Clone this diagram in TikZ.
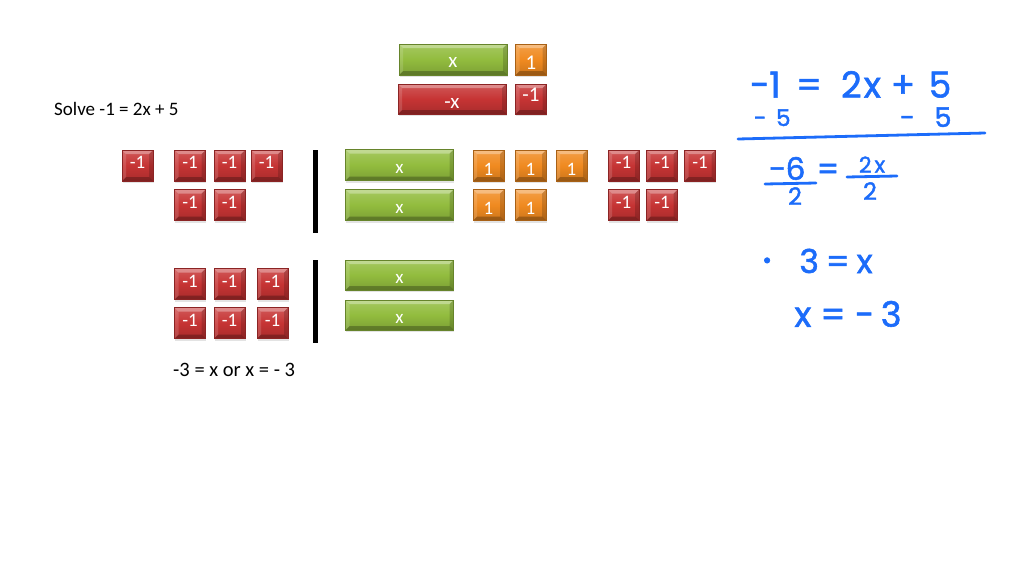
\documentclass[tikz,border=0pt]{standalone}
\usepackage{fontspec}
\setmainfont{Carlito}
\newfontfamily\hwfont[FakeBold=1.6]{Poppins}
\usetikzlibrary{shadows}
\definecolor{tgreen}{RGB}{146,188,62}
\definecolor{torange}{RGB}{240,138,32}
\definecolor{tred}{RGB}{198,52,52}
\definecolor{ink}{RGB}{28,108,250}
\tikzset{
  bevel/.style={path picture={
    \fill[white,opacity=0.32] (path picture bounding box.north west) -- (path picture bounding box.north east) -- ([shift={(-4pt,-4pt)}]path picture bounding box.north east) -- ([shift={(4pt,-4pt)}]path picture bounding box.north west) -- cycle;
    \fill[black,opacity=0.25] (path picture bounding box.south west) -- (path picture bounding box.south east) -- ([shift={(-4pt,4pt)}]path picture bounding box.south east) -- ([shift={(4pt,4pt)}]path picture bounding box.south west) -- cycle;
    \fill[white,opacity=0.14] (path picture bounding box.north west) -- ([shift={(4pt,-4pt)}]path picture bounding box.north west) -- ([shift={(4pt,4pt)}]path picture bounding box.south west) -- (path picture bounding box.south west) -- cycle;
    \fill[black,opacity=0.16] (path picture bounding box.north east) -- ([shift={(-4pt,-4pt)}]path picture bounding box.north east) -- ([shift={(-4pt,4pt)}]path picture bounding box.south east) -- (path picture bounding box.south east) -- cycle;
  }},
  tilebase/.style={inner sep=0pt, text=white, font=\fontsize{19}{19}\selectfont,
    text height=0pt, text depth=0pt,
    draw=#1!70!black, line width=0.4pt,
    top color=#1!82!white, bottom color=#1!85!black, middle color=#1,
    drop shadow={opacity=0.22, shadow xshift=0.8pt, shadow yshift=-2.2pt}, bevel},
  big/.style={font=\fontsize{21}{21}\selectfont},
  xtile/.style={tilebase=tgreen, minimum width=108pt, minimum height=31pt},
  negxtile/.style={tilebase=tred, minimum width=108pt, minimum height=30pt},
  onetile/.style={tilebase=torange, minimum width=31pt, minimum height=31pt},
  negtile/.style={tilebase=tred, minimum width=31pt, minimum height=31pt},
  bar/.style={fill=black, inner sep=0pt, minimum width=5pt, minimum height=83pt},
  plain/.style={inner sep=0pt, font=\fontsize{#1}{#1}\selectfont, anchor=west},
  hw/.style={inner sep=0pt, text=ink, font=\hwfont\fontsize{#1}{#1}\selectfont,
    text height=\dimexpr #1pt*7/10\relax, text depth=0pt},
  hwline/.style={draw=ink, line width=2.8pt, line cap=round}
}
\newcommand{\negone}{\raisebox{-3pt}{-1}}
\newcommand{\posone}{\raisebox{-9.5pt}{1}}
\newcommand{\xlab}{\raisebox{-8.4pt}{x}}
\begin{document}
\begin{tikzpicture}[x=1pt,y=-1pt]
\fill[white] (0,0) rectangle (1024,570);
\useasboundingbox (0,0) rectangle (1024,570);

% top legend
\node[xtile, big] (lx) at (453,59.5) {\raisebox{-7.9pt}{x}};
\node[onetile, big] (lone) at (531,59.5) {\raisebox{-9.6pt}{1}};
\node[negxtile, big] (lnx) at (452,99) {\raisebox{-9.9pt}{-x}};
\node[negtile, big, minimum height=30pt] (lneg) at (531,99) {\raisebox{-2.6pt}{-1}};

\node[plain=19] (solve) at (54,109) {Solve -1 = 2x + 5};

% row 1 left
\node[negtile] (a1) at (137.5,165.5) {\negone};
\node[negtile] (a2) at (190,165.5) {\negone};
\node[negtile] (a3) at (229.5,165.5) {\negone};
\node[negtile] (a4) at (266.5,165.5) {\negone};
\node[negtile] (a5) at (190,205) {\negone};
\node[negtile] (a6) at (229.5,205) {\negone};

\node[bar] (bar1) at (315.5,191.5) {};

% row 1 right
\node[xtile] (b1) at (399.5,165) {\xlab};
\node[xtile] (b2) at (399.5,205) {\xlab};
\node[onetile] (c1) at (488.5,165.5) {\posone};
\node[onetile] (c2) at (530.5,165.5) {\posone};
\node[onetile] (c3) at (571.5,165.5) {\posone};
\node[onetile] (c4) at (488.5,205) {\posone};
\node[onetile] (c5) at (530.5,205) {\posone};
\node[negtile] (d1) at (623.5,165.5) {\negone};
\node[negtile] (d2) at (662,165.5) {\negone};
\node[negtile] (d3) at (700,165.5) {\negone};
\node[negtile] (d4) at (623.5,205) {\negone};
\node[negtile] (d5) at (662,205) {\negone};

% bottom
\node[negtile] (e1) at (190,284) {\negone};
\node[negtile] (e2) at (229.5,284) {\negone};
\node[negtile] (e3) at (272.5,284) {\negone};
\node[negtile] (e4) at (190,323) {\negone};
\node[negtile] (e5) at (229.5,323) {\negone};
\node[negtile] (e6) at (272.5,323) {\negone};
\node[bar] (bar2) at (315.5,301.5) {};
\node[xtile, minimum height=30pt] (f1) at (399.5,275) {\xlab};
\node[xtile, minimum height=30pt] (f2) at (399.5,315) {\xlab};

\node[plain=20.5] (answer) at (173,370) {-3 = x or x = - 3};

% handwriting
\node[hw=36] (h1) at (765,85) {−1};
\node[hw=36] (h2) at (809,85) {=};
\node[hw=36] (h3) at (861,85) {2\hspace{2pt}x};
\node[hw=36] (h4) at (903,85) {+};
\node[hw=36] (h5) at (940,85) {5};
\node[hw=23] (h6) at (772,118) {−\hspace{10pt}5};
\node[hw=27] (h7) at (907,117.5) {−};
\node[hw=27] (h8) at (943,117.5) {5};
\coordinate (l1a) at (738,139);
\coordinate (l1b) at (985,133);
\draw[hwline] (l1a) -- (l1b);
\node[hw=31] (h9) at (787,169) {−6};
\node[hw=31] (h10) at (828,169) {=};
\node[hw=22] (h11) at (872,165) {2\hspace{3pt}x};
\coordinate (f1a) at (765,184);
\coordinate (f1b) at (816,183);
\coordinate (f2a) at (847,177);
\coordinate (f2b) at (897,176);
\draw[hwline] (f1a) -- (f1b);
\draw[hwline] (f2a) -- (f2b);
\node[hw=24] (h12) at (795,196.5) {2};
\node[hw=24] (h13) at (870,191.5) {2};
\node[hw=44] (h14) at (767,260) {·};
\node[hw=33] (h15) at (836,261.5) {3\hspace{7pt}=\hspace{7pt}x};
\node[hw=35] (h16) at (848,314.5) {x\hspace{9pt}=\hspace{9pt}−\hspace{7pt}3};
\end{tikzpicture}
\end{document}
